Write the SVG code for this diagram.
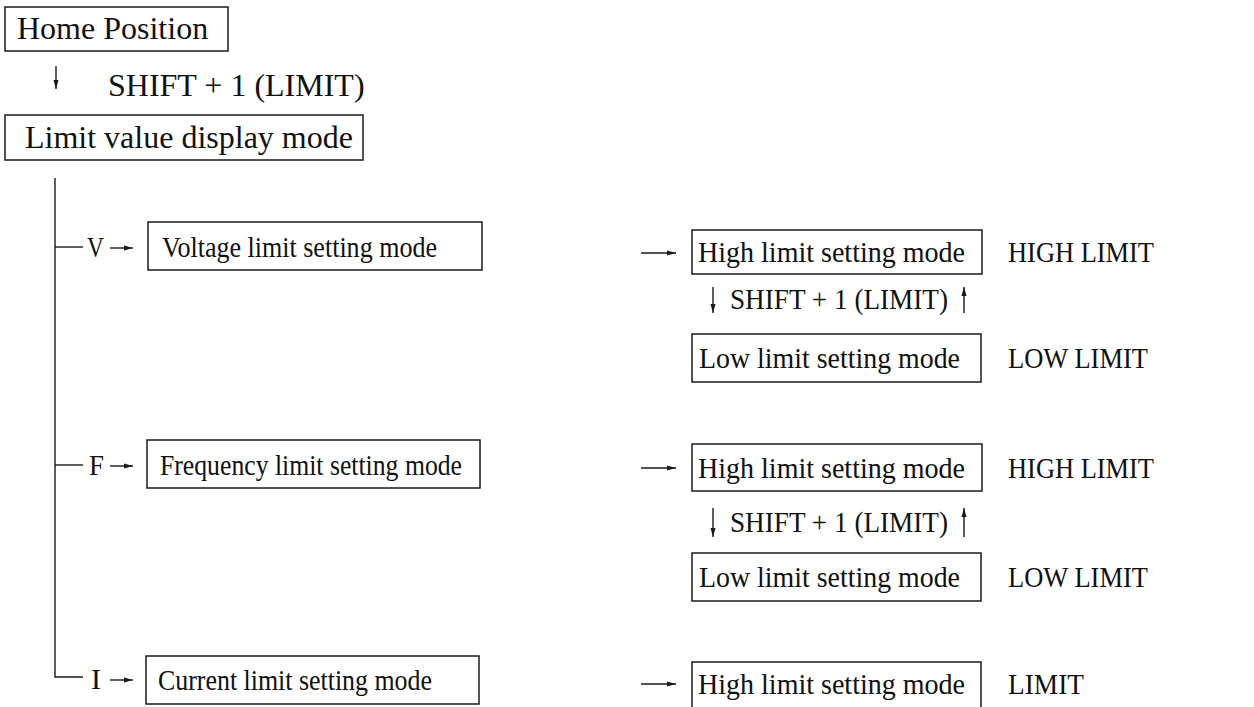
<svg xmlns="http://www.w3.org/2000/svg" width="1254" height="707" viewBox="0 0 1254 707">
<style>
.box{fill:none;stroke:#1a1a1a;stroke-width:1.5}
.t{font-family:"Liberation Serif","Times New Roman",serif;font-size:30px;fill:#111}
.tl{font-family:"Liberation Serif","Times New Roman",serif;font-size:32px;fill:#111}
.ln{fill:none;stroke:#1a1a1a;stroke-width:1.4}
</style>
<defs>
<marker id="ah" markerUnits="userSpaceOnUse" markerWidth="9" markerHeight="6" refX="9" refY="3" orient="auto">
<path d="M0,0.5 L9,3 L0,5.5 z" fill="#1a1a1a"/>
</marker>
</defs>
<rect width="1254" height="707" fill="#fff"/>

<g id="connectors">
<line class="ln" x1="56" y1="66" x2="56" y2="89" marker-end="url(#ah)"/>
<text class="tl" x="108" y="96">SHIFT + 1 (LIMIT)</text>
<path class="ln" d="M55,178 V677 H83"/>
<line class="ln" x1="55" y1="247" x2="83" y2="247"/>
<line class="ln" x1="55" y1="465" x2="83" y2="465"/>
<text class="t" x="87" y="257" textLength="17" lengthAdjust="spacingAndGlyphs">V</text>
<text class="t" x="89" y="475" textLength="15" lengthAdjust="spacingAndGlyphs">F</text>
<text class="t" x="91" y="689" textLength="10" lengthAdjust="spacingAndGlyphs">I</text>
<line class="ln" x1="110" y1="248" x2="133" y2="248" marker-end="url(#ah)"/>
<line class="ln" x1="110" y1="466" x2="133" y2="466" marker-end="url(#ah)"/>
<line class="ln" x1="110" y1="680" x2="133" y2="680" marker-end="url(#ah)"/>
<line class="ln" x1="641" y1="253" x2="676" y2="253" marker-end="url(#ah)"/>
<line class="ln" x1="641" y1="468" x2="676" y2="468" marker-end="url(#ah)"/>
<line class="ln" x1="641" y1="684" x2="676" y2="684" marker-end="url(#ah)"/>
<line class="ln" x1="713" y1="287" x2="713" y2="313" marker-end="url(#ah)"/>
<line class="ln" x1="964" y1="313" x2="964" y2="287" marker-end="url(#ah)"/>
<text class="t" x="730" y="309" textLength="218" lengthAdjust="spacingAndGlyphs">SHIFT + 1 (LIMIT)</text>
<line class="ln" x1="713" y1="508" x2="713" y2="537" marker-end="url(#ah)"/>
<line class="ln" x1="964" y1="537" x2="964" y2="508" marker-end="url(#ah)"/>
<text class="t" x="730" y="532" textLength="218" lengthAdjust="spacingAndGlyphs">SHIFT + 1 (LIMIT)</text>
</g>

<g id="home"><rect class="box" x="5" y="7" width="223" height="44"/><text class="tl" x="17" y="39">Home Position</text></g>
<g id="limitdisplay"><rect class="box" x="5" y="115" width="358" height="45"/><text class="tl" x="25" y="148">Limit value display mode</text></g>

<g id="voltage"><rect class="box" x="148" y="222" width="334" height="48"/><text class="t" x="162" y="257" textLength="275" lengthAdjust="spacingAndGlyphs">Voltage limit setting mode</text></g>
<g id="vhigh"><rect class="box" x="692" y="230" width="290" height="44"/><text class="t" x="698" y="262" textLength="267" lengthAdjust="spacingAndGlyphs">High limit setting mode</text></g>
<g id="vhighlabel"><text class="t" x="1008" y="262" textLength="146" lengthAdjust="spacingAndGlyphs">HIGH LIMIT</text></g>
<g id="vlow"><rect class="box" x="692" y="334" width="289" height="48"/><text class="t" x="699" y="368" textLength="261" lengthAdjust="spacingAndGlyphs">Low limit setting mode</text></g>
<g id="vlowlabel"><text class="t" x="1008" y="368" textLength="140" lengthAdjust="spacingAndGlyphs">LOW LIMIT</text></g>

<g id="frequency"><rect class="box" x="147" y="440" width="333" height="48"/><text class="t" x="160" y="475" textLength="302" lengthAdjust="spacingAndGlyphs">Frequency limit setting mode</text></g>
<g id="fhigh"><rect class="box" x="692" y="444" width="290" height="47"/><text class="t" x="698" y="478" textLength="267" lengthAdjust="spacingAndGlyphs">High limit setting mode</text></g>
<g id="fhighlabel"><text class="t" x="1008" y="478" textLength="146" lengthAdjust="spacingAndGlyphs">HIGH LIMIT</text></g>
<g id="flow"><rect class="box" x="692" y="553" width="289" height="48"/><text class="t" x="699" y="587" textLength="261" lengthAdjust="spacingAndGlyphs">Low limit setting mode</text></g>
<g id="flowlabel"><text class="t" x="1008" y="587" textLength="140" lengthAdjust="spacingAndGlyphs">LOW LIMIT</text></g>

<g id="current"><rect class="box" x="146" y="656" width="333" height="48"/><text class="t" x="158" y="690" textLength="274" lengthAdjust="spacingAndGlyphs">Current limit setting mode</text></g>
<g id="ihigh"><rect class="box" x="692" y="662" width="289" height="50"/><text class="t" x="698" y="694" textLength="267" lengthAdjust="spacingAndGlyphs">High limit setting mode</text></g>
<g id="ihighlabel"><text class="t" x="1008" y="694" textLength="76" lengthAdjust="spacingAndGlyphs">LIMIT</text></g>
</svg>
